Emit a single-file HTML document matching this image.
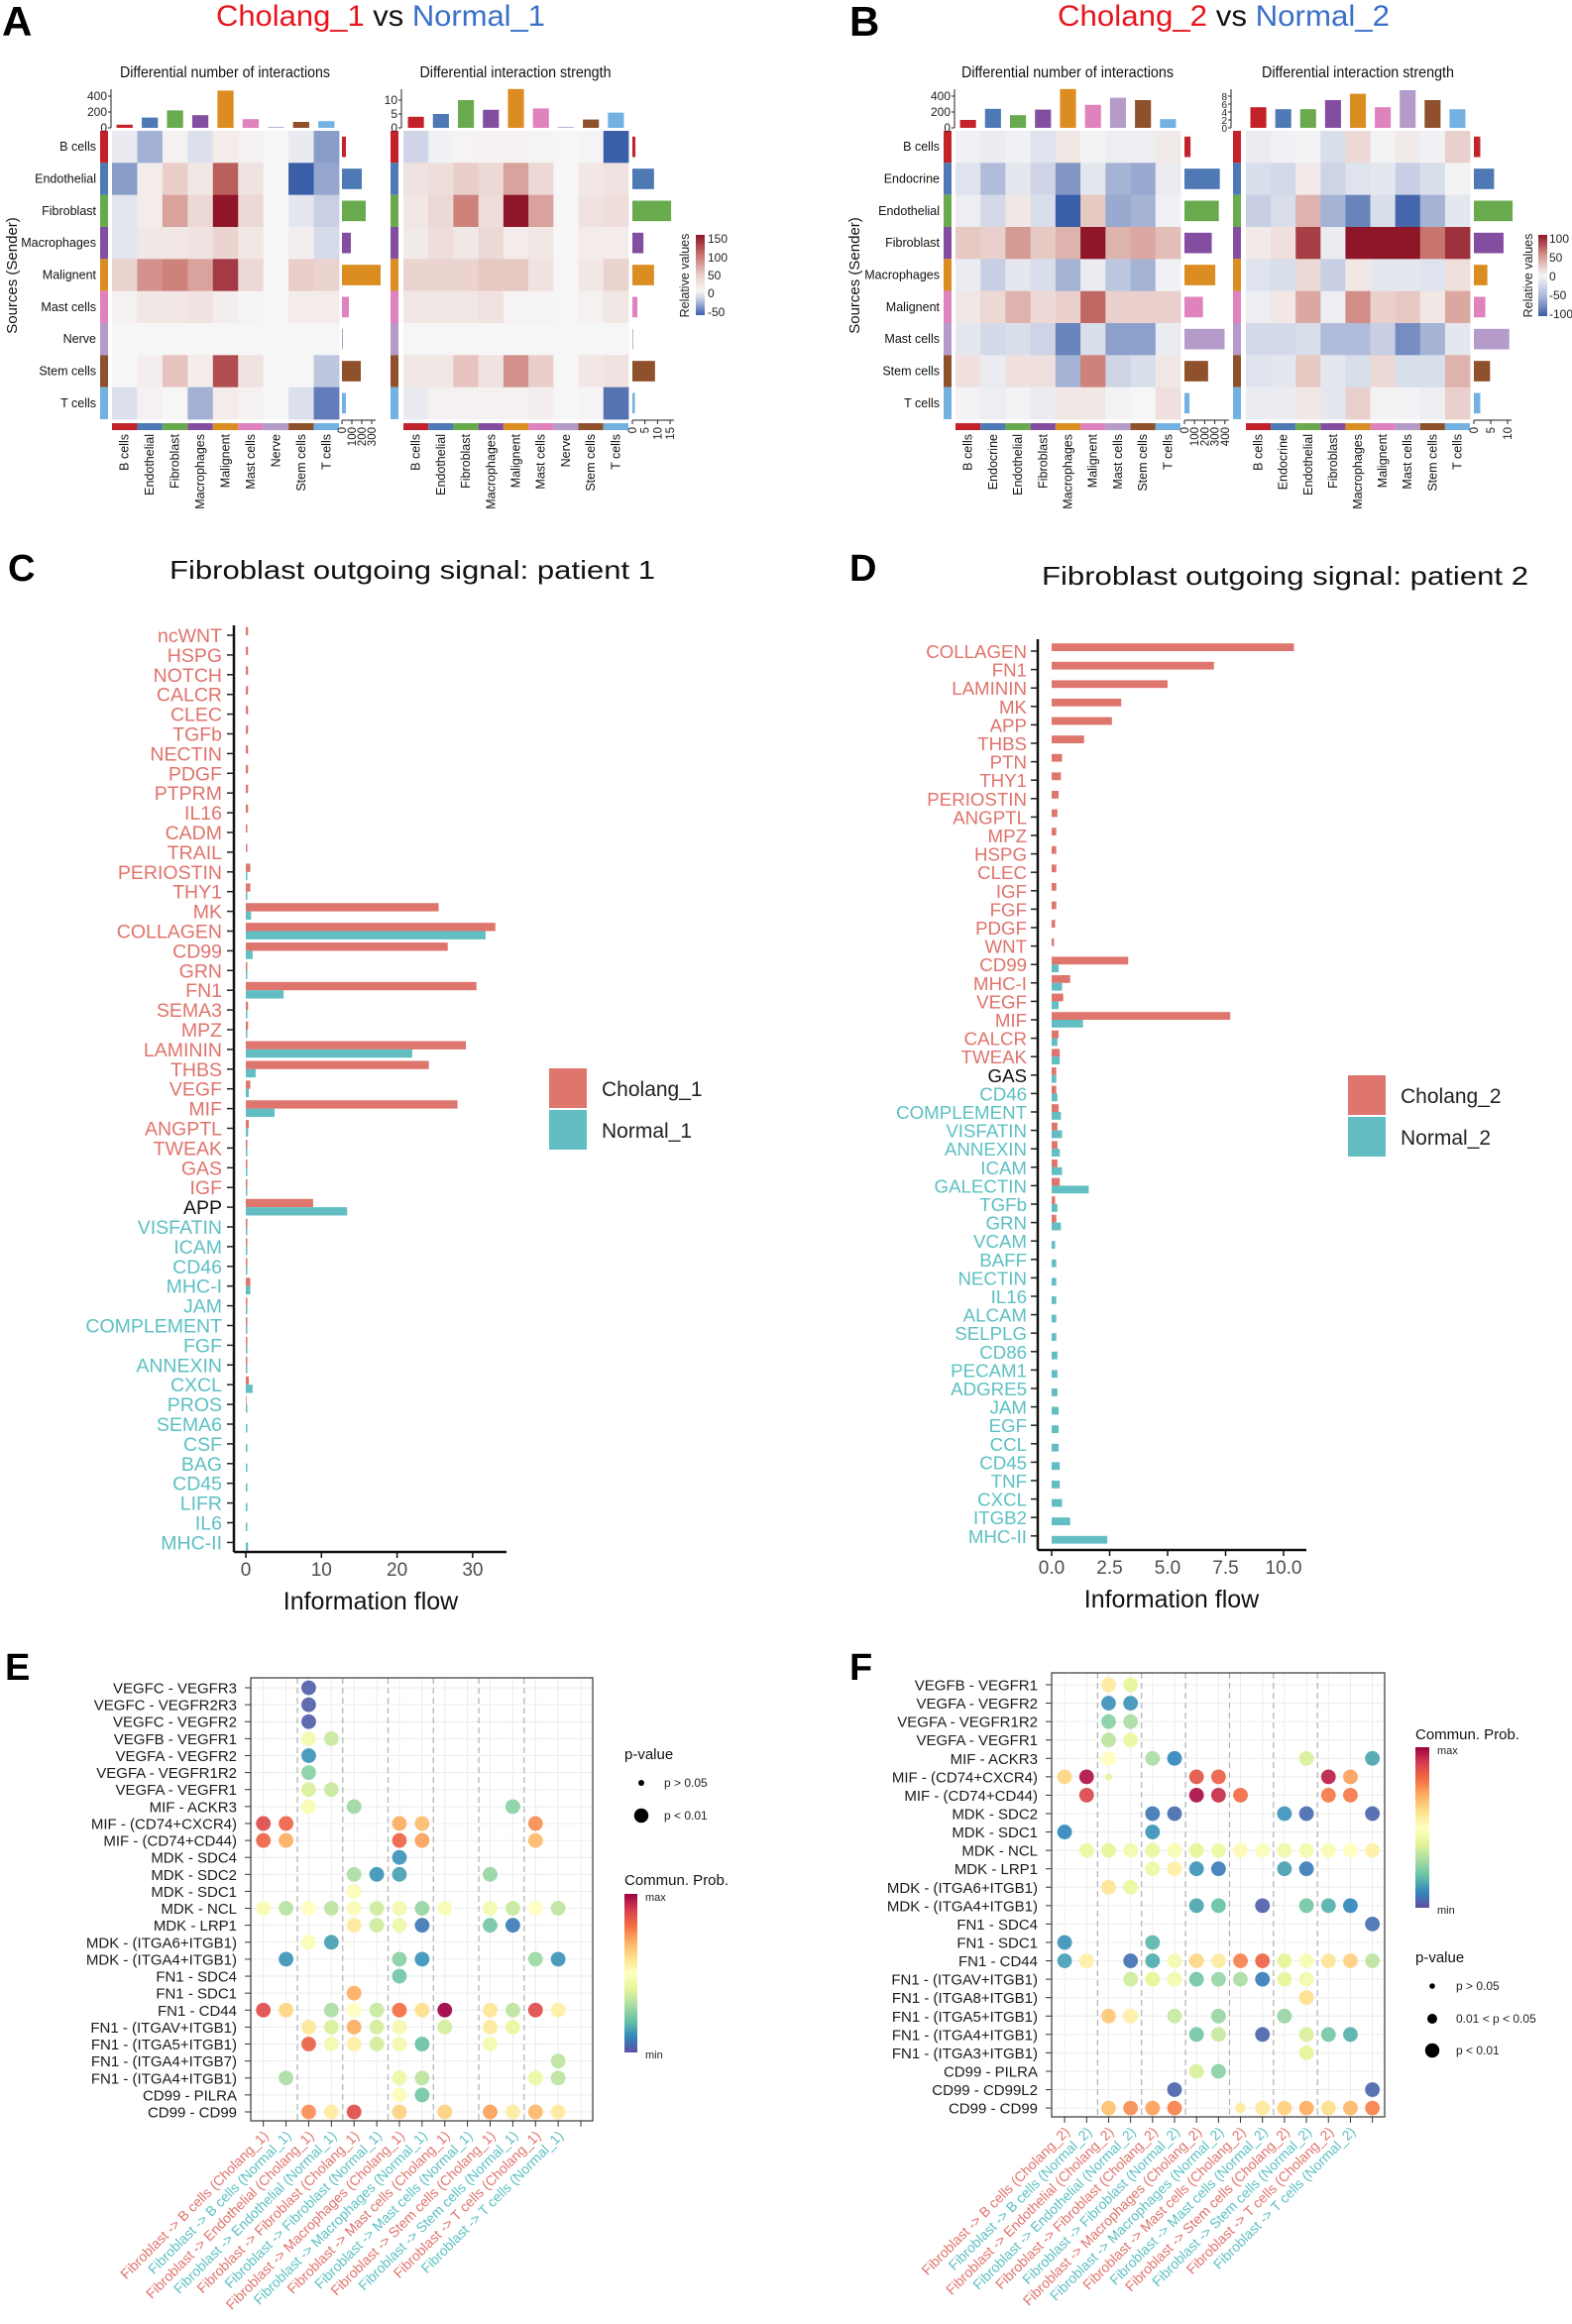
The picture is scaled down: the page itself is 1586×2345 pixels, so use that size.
<!DOCTYPE html>
<html><head><meta charset="utf-8"><title>Cell communication figure</title>
<style>
html,body{margin:0;padding:0;background:#fff;}
svg{display:block;font-family:"Liberation Sans",Arial,sans-serif;}
</style></head>
<body>
<svg id="fig" xmlns="http://www.w3.org/2000/svg" width="1586" height="2345" viewBox="0 0 1586 2345">
<rect x="0" y="0" width="1586" height="2345" fill="#fff"/>
<defs>
<linearGradient id="gradA" x1="0" y1="0" x2="0" y2="1">
<stop offset="0" stop-color="#8e1628"/><stop offset="0.25" stop-color="#c7736c"/><stop offset="0.5" stop-color="#e9cdc8"/><stop offset="0.7" stop-color="#f6f6f6"/><stop offset="0.8" stop-color="#c5cce3"/><stop offset="1" stop-color="#3b5ea8"/>
</linearGradient>
<linearGradient id="gradB" x1="0" y1="0" x2="0" y2="1">
<stop offset="0" stop-color="#8e1628"/><stop offset="0.25" stop-color="#d6938c"/><stop offset="0.5" stop-color="#f6f6f6"/><stop offset="0.75" stop-color="#aeb9da"/><stop offset="1" stop-color="#3b5ea8"/>
</linearGradient>
<linearGradient id="gradSp" x1="0" y1="0" x2="0" y2="1">
<stop offset="0" stop-color="#9e0142"/><stop offset="0.1" stop-color="#d53e4f"/><stop offset="0.2" stop-color="#f46d43"/><stop offset="0.3" stop-color="#fdae61"/><stop offset="0.4" stop-color="#fee08b"/><stop offset="0.5" stop-color="#ffffbf"/><stop offset="0.6" stop-color="#e6f598"/><stop offset="0.7" stop-color="#abdda4"/><stop offset="0.8" stop-color="#66c2a5"/><stop offset="0.9" stop-color="#3288bd"/><stop offset="1" stop-color="#5e4fa2"/>
</linearGradient>
</defs>

<text x="2" y="36" font-size="42" font-weight="bold">A</text>
<text x="218" y="26" font-size="30" textLength="332" lengthAdjust="spacingAndGlyphs"><tspan fill="#e8141c">Cholang_1</tspan><tspan fill="#111"> vs </tspan><tspan fill="#3a6fc8">Normal_1</tspan></text>
<text x="857" y="36" font-size="42" font-weight="bold">B</text>
<text x="1067" y="26" font-size="30" textLength="335" lengthAdjust="spacingAndGlyphs"><tspan fill="#e8141c">Cholang_2</tspan><tspan fill="#111"> vs </tspan><tspan fill="#3a6fc8">Normal_2</tspan></text>

<text x="8" y="586" font-size="38" font-weight="bold">C</text>
<text x="171" y="584" font-size="26" textLength="490" lengthAdjust="spacingAndGlyphs" fill="#111">Fibroblast outgoing signal: patient 1</text>
<text x="857" y="586" font-size="38" font-weight="bold">D</text>
<text x="1051" y="590" font-size="26" textLength="491" lengthAdjust="spacingAndGlyphs" fill="#111">Fibroblast outgoing signal: patient 2</text>

<text x="5" y="1695" font-size="38" font-weight="bold">E</text>
<text x="857" y="1695" font-size="38" font-weight="bold">F</text>
</svg>

<script>
// ---------- Panel A / B heatmap data ----------
const cellsA = ["B cells","Endothelial","Fibroblast","Macrophages","Malignent","Mast cells","Nerve","Stem cells","T cells"];
const colorsA = ["#c4222a","#4e79b4","#6aaa4e","#844ea0","#dc8d22","#df82bd","#b49bc9","#8f512b","#74b1e3"];
const cellsB = ["B cells","Endocrine","Endothelial","Fibroblast","Macrophages","Malignent","Mast cells","Stem cells","T cells"];
const colorsB = ["#c4222a","#4e79b4","#6aaa4e","#844ea0","#dc8d22","#df82bd","#b49bc9","#8f512b","#74b1e3"];

const matA1 = [
 [-10,-50,5,-20,10,5,0,-10,-60],
 [-60,10,40,15,110,20,0,-90,-55],
 [-15,10,70,30,150,30,0,-15,-35],
 [-15,15,15,20,35,15,0,8,-25],
 [35,80,90,70,130,30,0,40,35],
 [5,15,15,20,8,3,0,10,10],
 [0,0,0,0,0,0,0,0,0],
 [0,8,50,10,120,20,0,0,-40],
 [-20,5,0,-50,10,5,0,-20,-75]];
const matA2 = [
 [-30,-5,3,5,5,3,0,3,-90],
 [20,25,40,30,70,30,0,15,20],
 [15,30,90,25,150,70,0,20,25],
 [12,25,15,30,10,15,0,10,10],
 [35,35,35,45,45,20,0,15,35],
 [15,15,15,20,3,3,0,5,15],
 [0,0,0,0,0,0,0,0,0],
 [15,15,50,20,80,40,0,15,20],
 [-10,5,5,5,5,8,0,3,-80]];
const matB1 = [
 [-5,-10,-5,-20,10,-3,-8,-8,8],
 [-20,-50,-15,-35,-70,-15,-55,-60,-10],
 [-8,-30,10,-25,-100,30,-60,-55,-5],
 [30,25,50,30,40,100,40,45,35],
 [-10,-40,-15,-25,-55,-10,-45,-55,-5],
 [10,20,40,20,25,70,25,25,25],
 [-15,-30,-25,-35,-80,-25,-65,-65,-10],
 [15,-10,15,15,-55,60,-35,-25,10],
 [-3,-8,-3,-10,10,10,-3,0,15]];
const matB2 = [
 [-10,-5,-3,-25,20,-3,8,-5,25],
 [-25,-30,8,-35,-20,-15,-40,-25,-3],
 [-40,-25,40,-55,-80,-25,-95,-55,-15],
 [8,15,85,-10,110,100,110,65,90],
 [-20,-25,20,-40,10,-15,-15,-20,15],
 [-8,10,45,-8,55,25,30,10,45],
 [-30,-30,-25,-50,-50,-40,-75,-55,-15],
 [-20,-15,30,-15,-25,20,-25,-25,40],
 [-10,-10,10,-15,25,-3,-3,-8,25]];

const topA1 = [40,130,220,160,470,110,10,75,85];
const rightA1 = [40,200,240,90,390,70,10,190,40];
const topA2 = [4,5,10,6.5,14,7,0.3,3,5.5];
const rightA2 = [1.2,8.6,15.4,4.4,8.6,2,0.3,9,1];
const topB1 = [100,240,160,230,490,290,380,350,110];
const rightB1 = [60,350,340,270,305,183,397,234,50];
const topB2 = [5.2,4.7,4.7,7,8.6,5.2,9.5,7,4.7];
const rightB2 = [1.9,6,11.5,8.8,4,3.4,10.5,4.8,1.9];

const ticksTopCount = [0,200,400];
const ticksTopStrA = [0,5,10];
const ticksTopStrB = [0,2,4,6,8];
const ticksRightA1 = [0,100,200,300];
const ticksRightA2 = [0,5,10,15];
const ticksRightB1 = [0,100,200,300,400];
const ticksRightB2 = [0,5,10];

// ---------- Panel C data ----------
const catsC = ["ncWNT","HSPG","NOTCH","CALCR","CLEC","TGFb","NECTIN","PDGF","PTPRM","IL16","CADM","TRAIL","PERIOSTIN","THY1","MK","COLLAGEN","CD99","GRN","FN1","SEMA3","MPZ","LAMININ","THBS","VEGF","MIF","ANGPTL","TWEAK","GAS","IGF","APP","VISFATIN","ICAM","CD46","MHC-I","JAM","COMPLEMENT","FGF","ANNEXIN","CXCL","PROS","SEMA6","CSF","BAG","CD45","LIFR","IL6","MHC-II"];
const cholC = [0.3,0.3,0.3,0.3,0.3,0.3,0.3,0.3,0.3,0.3,0.2,0.2,0.6,0.6,25.5,33.0,26.7,0.2,30.5,0.3,0.3,29.1,24.2,0.6,28.0,0.4,0.2,0.2,0.2,8.9,0.2,0.2,0.2,0.6,0.2,0.2,0.2,0.2,0.4,0.1,0,0,0,0,0,0,0];
const normC = [0,0,0,0,0,0,0,0,0,0,0,0,0.2,0.2,0.7,31.7,0.9,0.2,5.0,0.2,0.2,22.0,1.3,0.4,3.8,0.3,0.2,0.2,0.2,13.4,0.2,0.2,0.2,0.6,0.2,0.2,0.2,0.2,0.9,0.2,0.2,0.2,0.2,0.2,0.2,0.2,0.3];
const ticksC = [0,10,20,30];
const tickLabelsC = ["0","10","20","30"];

// ---------- Panel D data ----------
const catsD = ["COLLAGEN","FN1","LAMININ","MK","APP","THBS","PTN","THY1","PERIOSTIN","ANGPTL","MPZ","HSPG","CLEC","IGF","FGF","PDGF","WNT","CD99","MHC-I","VEGF","MIF","CALCR","TWEAK","GAS","CD46","COMPLEMENT","VISFATIN","ANNEXIN","ICAM","GALECTIN","TGFb","GRN","VCAM","BAFF","NECTIN","IL16","ALCAM","SELPLG","CD86","PECAM1","ADGRE5","JAM","EGF","CCL","CD45","TNF","CXCL","ITGB2","MHC-II"];
const cholD = [10.45,7.0,5.0,3.0,2.6,1.4,0.45,0.4,0.3,0.25,0.2,0.2,0.2,0.2,0.2,0.15,0.1,3.3,0.8,0.5,7.7,0.3,0.35,0.2,0.2,0.3,0.25,0.25,0.25,0.35,0.15,0.2,0,0,0,0,0,0,0,0,0,0,0,0,0,0,0,0,0];
const normD = [0,0,0,0,0,0,0,0,0,0,0,0,0,0,0,0,0,0.3,0.45,0.3,1.35,0.25,0.35,0.2,0.25,0.4,0.45,0.35,0.45,1.6,0.25,0.4,0.15,0.2,0.2,0.2,0.2,0.2,0.25,0.25,0.25,0.3,0.3,0.3,0.35,0.35,0.45,0.8,2.4];
const ticksD = [0,2.5,5,7.5,10];
const tickLabelsD = ["0.0","2.5","5.0","7.5","10.0"];

// ---------- Panel E data ----------
const eRows = ["VEGFC - VEGFR3","VEGFC - VEGFR2R3","VEGFC - VEGFR2","VEGFB - VEGFR1","VEGFA - VEGFR2","VEGFA - VEGFR1R2","VEGFA - VEGFR1","MIF - ACKR3","MIF - (CD74+CXCR4)","MIF - (CD74+CD44)","MDK - SDC4","MDK - SDC2","MDK - SDC1","MDK - NCL","MDK - LRP1","MDK - (ITGA6+ITGB1)","MDK - (ITGA4+ITGB1)","FN1 - SDC4","FN1 - SDC1","FN1 - CD44","FN1 - (ITGAV+ITGB1)","FN1 - (ITGA5+ITGB1)","FN1 - (ITGA4+ITGB7)","FN1 - (ITGA4+ITGB1)","CD99 - PILRA","CD99 - CD99"];
const eCols = ["Fibroblast -> B cells (Cholang_1)","Fibroblast -> B cells (Normal_1)","Fibroblast -> Endothelial (Cholang_1)","Fibroblast -> Endothelial (Normal_1)","Fibroblast -> Fibroblast (Cholang_1)","Fibroblast -> Fibroblast (Normal_1)","Fibroblast -> Macrophages (Cholang_1)","Fibroblast -> Macrophages (Normal_1)","Fibroblast -> Mast cells (Cholang_1)","Fibroblast -> Mast cells (Normal_1)","Fibroblast -> Stem cells (Cholang_1)","Fibroblast -> Stem cells (Normal_1)","Fibroblast -> T cells (Cholang_1)","Fibroblast -> T cells (Normal_1)"];
const ePoints = [
 [[2,.03,2]],[[2,.03,2]],[[2,.03,2]],
 [[2,.45,2],[3,.35,2]],
 [[2,.12,2]],
 [[2,.25,2]],
 [[2,.38,2],[3,.35,2]],
 [[2,.47,2],[4,.28,2],[11,.25,2]],
 [[0,.87,2],[1,.82,2],[6,.7,2],[7,.67,2],[12,.75,2]],
 [[0,.82,2],[1,.7,2],[6,.82,2],[7,.72,2],[12,.68,2]],
 [[6,.12,2]],
 [[4,.3,2],[5,.12,2],[6,.14,2],[10,.27,2]],
 [[4,.48,2]],
 [[0,.47,2],[1,.32,2],[2,.5,2],[3,.33,2],[4,.47,2],[5,.36,2],[6,.45,2],[7,.27,2],[8,.47,2],[10,.45,2],[11,.35,2],[12,.5,2],[13,.33,2]],
 [[4,.57,2],[5,.36,2],[6,.44,2],[7,.07,2],[10,.22,2],[11,.08,2]],
 [[2,.48,2],[3,.14,2]],
 [[1,.12,2],[6,.25,2],[7,.12,2],[12,.28,2],[13,.12,2]],
 [[6,.22,2]],
 [[4,.7,2]],
 [[0,.87,2],[1,.62,2],[3,.3,2],[4,.5,2],[5,.35,2],[6,.8,2],[7,.6,2],[8,1,2],[10,.58,2],[11,.33,2],[12,.87,2],[13,.55,2]],
 [[2,.58,2],[3,.38,2],[4,.7,2],[5,.37,2],[6,.45,2],[8,.37,2],[10,.57,2],[11,.42,2]],
 [[2,.83,2],[3,.45,2],[4,.55,2],[5,.37,2],[6,.45,2],[7,.2,2],[10,.45,2]],
 [[13,.33,2]],
 [[1,.3,2],[6,.43,2],[7,.33,2],[12,.43,2],[13,.33,2]],
 [[6,.48,2],[7,.22,2]],
 [[2,.75,2],[3,.56,2],[4,.87,2],[6,.63,2],[8,.63,2],[10,.72,2],[11,.56,2],[12,.68,2],[13,.57,2]]
];

// ---------- Panel F data ----------
const fRows = ["VEGFB - VEGFR1","VEGFA - VEGFR2","VEGFA - VEGFR1R2","VEGFA - VEGFR1","MIF - ACKR3","MIF - (CD74+CXCR4)","MIF - (CD74+CD44)","MDK - SDC2","MDK - SDC1","MDK - NCL","MDK - LRP1","MDK - (ITGA6+ITGB1)","MDK - (ITGA4+ITGB1)","FN1 - SDC4","FN1 - SDC1","FN1 - CD44","FN1 - (ITGAV+ITGB1)","FN1 - (ITGA8+ITGB1)","FN1 - (ITGA5+ITGB1)","FN1 - (ITGA4+ITGB1)","FN1 - (ITGA3+ITGB1)","CD99 - PILRA","CD99 - CD99L2","CD99 - CD99"];
const fCols = ["Fibroblast -> B cells (Cholang_2)","Fibroblast -> B cells (Normal_2)","Fibroblast -> Endothelial (Cholang_2)","Fibroblast -> Endothelial (Normal_2)","Fibroblast -> Fibroblast (Cholang_2)","Fibroblast -> Fibroblast (Normal_2)","Fibroblast -> Macrophages (Cholang_2)","Fibroblast -> Macrophages (Normal_2)","Fibroblast -> Mast cells (Cholang_2)","Fibroblast -> Mast cells (Normal_2)","Fibroblast -> Stem cells (Cholang_2)","Fibroblast -> Stem cells (Normal_2)","Fibroblast -> T cells (Cholang_2)","Fibroblast -> T cells (Normal_2)"];
const fPoints = [
 [[2,.57,2],[3,.4,2]],
 [[2,.12,2],[3,.12,2]],
 [[2,.25,2],[3,.3,2]],
 [[2,.33,2],[3,.42,2]],
 [[2,.5,2],[4,.3,2],[5,.1,2],[11,.38,2],[14,.15,2]],
 [[0,.62,2],[1,.97,2],[2,.4,0],[6,.85,2],[7,.83,2],[12,.95,2],[13,.72,2]],
 [[1,.88,2],[6,.98,2],[7,.93,2],[8,.8,2],[12,.78,2],[13,.78,2]],
 [[4,.07,2],[5,.05,2],[10,.12,2],[11,.05,2],[14,.04,2]],
 [[0,.1,2],[4,.12,2]],
 [[1,.42,2],[2,.4,2],[3,.45,2],[4,.42,2],[5,.47,2],[6,.4,2],[7,.43,2],[8,.52,2],[9,.48,2],[10,.44,2],[11,.45,2],[12,.47,2],[13,.5,2],[14,.55,2]],
 [[4,.43,2],[5,.55,2],[6,.12,2],[7,.08,2],[10,.14,2],[11,.08,2]],
 [[2,.58,2],[3,.42,2]],
 [[6,.15,2],[7,.2,2],[9,.03,2],[11,.22,2],[12,.17,2],[13,.1,2]],
 [[14,.06,2]],
 [[0,.12,2],[4,.18,2]],
 [[0,.14,2],[1,.55,2],[3,.06,2],[4,.16,2],[5,.45,2],[6,.62,2],[7,.56,2],[8,.77,2],[9,.82,2],[10,.4,2],[11,.47,2],[12,.58,2],[13,.63,2],[14,.33,2]],
 [[3,.36,2],[4,.4,2],[5,.45,2],[6,.22,2],[7,.27,2],[8,.3,2],[9,.08,2],[10,.4,2],[11,.45,2]],
 [[11,.6,2]],
 [[2,.65,2],[3,.55,2],[5,.35,2],[7,.27,2],[10,.27,2]],
 [[6,.22,2],[7,.35,2],[9,.04,2],[11,.38,2],[12,.22,2],[13,.17,2]],
 [[11,.4,2]],
 [[6,.38,2],[7,.25,2]],
 [[5,.04,2],[14,.04,2]],
 [[2,.66,2],[3,.75,2],[4,.72,2],[5,.77,2],[8,.57,1],[9,.57,2],[10,.63,2],[11,.7,2],[12,.6,2],[13,.68,2],[14,.77,2]]
];

// ================= drawing =================
const NS = 'http://www.w3.org/2000/svg';
const svg = document.getElementById('fig');
function mk(tag, attrs, parent){
  const e = document.createElementNS(NS, tag);
  for (const k in attrs) e.setAttribute(k, attrs[k]);
  (parent || svg).appendChild(e);
  return e;
}
function txt(str, attrs, parent){
  const e = mk('text', attrs, parent);
  e.textContent = str;
  return e;
}
function hex2rgb(h){return [parseInt(h.slice(1,3),16),parseInt(h.slice(3,5),16),parseInt(h.slice(5,7),16)];}
function ramp(stops, t){
  t = Math.max(0, Math.min(1, t));
  for (let i=0;i<stops.length-1;i++){
    const a=stops[i], b=stops[i+1];
    if (t<=b[0]){
      const f=(t-a[0])/(b[0]-a[0]||1);
      const ca=hex2rgb(a[1]), cb=hex2rgb(b[1]);
      return 'rgb('+ca.map((v,k)=>Math.round(v+(cb[k]-v)*f)).join(',')+')';
    }
  }
  return stops[stops.length-1][1];
}
const posStops = [[0,'#f6f6f6'],[0.33,'#e6c4bf'],[0.66,'#c7736c'],[1,'#8e1628']];
const negStops = [[0,'#f6f6f6'],[0.4,'#c8cfe4'],[1,'#3b5ea8']];
function heatColor(v, pos, neg){
  return v>=0 ? ramp(posStops, v/pos) : ramp(negStops, -v/neg);
}
const spStops = [[0,'#5e4fa2'],[0.1,'#3288bd'],[0.2,'#66c2a5'],[0.3,'#abdda4'],[0.4,'#e6f598'],[0.5,'#ffffbf'],[0.6,'#fee08b'],[0.7,'#fdae61'],[0.8,'#f46d43'],[0.9,'#d53e4f'],[1,'#9e0142']];
function specColor(v){
  return ramp(spStops, v);
}

function heat(c){
  const n = c.labels.length;
  const cw = (c.x1-c.x0)/n, rh = (c.y1-c.y0)/n;
  const g = mk('g', {});
  
  
  const st = txt(c.subtitle, {x:c.subX, y:78, 'font-size':16, 'text-anchor':'middle', textLength:c.subW, lengthAdjust:'spacingAndGlyphs', fill:'#111'}, g);
  
  
  c.matrix.forEach((row,i)=>row.forEach((v,j)=>{
    const r = mk('rect', {x:c.x0+j*cw, y:c.y0+i*rh, width:cw+0.4, height:rh+0.4, fill:heatColor(v,c.pos,c.neg)}, g);
    
    
  }));
  c.labels.forEach((lab,i)=>{
    const s = mk('rect', {x:c.sx, y:c.y0+i*rh, width:8, height:rh, fill:c.colors[i]}, g);
    
    
    if (c.rowLabX){
      const t = txt(lab, {x:c.rowLabX, y:c.y0+i*rh+rh/2+4, 'font-size':12.5, 'text-anchor':'end', fill:'#111'}, g);
      
      
    }
  });
  c.labels.forEach((lab,j)=>{
    const s = mk('rect', {x:c.x0+j*cw, y:c.y1+4, width:cw, height:7, fill:c.colors[j]}, g);
    
    
    const cx = c.x0+j*cw+cw/2+4, cy = c.y1+15;
    const t = txt(lab, {x:cx, y:cy, 'font-size':12.5, 'text-anchor':'end', transform:'rotate(-90 '+cx+' '+cy+')', fill:'#111'}, g);
    
    
  });
  const base = 129;
  c.topVals.forEach((v,j)=>{
    const h = v*c.topScale;
    const b = mk('rect', {x:c.x0+j*cw+cw*0.18, y:base-h, width:cw*0.64, height:h, fill:c.colors[j]}, g);
    
    
  });
  const topMax = c.topTicks[c.topTicks.length-1]*c.topScale;
  const ax = mk('line', {x1:c.topAxisX, y1:base, x2:c.topAxisX, y2:Math.min(base-topMax-4, 90), stroke:'#222', 'stroke-width':1}, g);
  
  
  c.topTicks.forEach(tv=>{
    const y = base - tv*c.topScale;
    const tk = mk('line', {x1:c.topAxisX-3, y1:y, x2:c.topAxisX, y2:y, stroke:'#222'}, g);
    
    
    const tl = txt(String(tv), {x:c.topAxisX-4, y:y+4, 'font-size':c.topFont||12, 'text-anchor':'end', fill:'#222'}, g);
    
    
  });
  c.rightVals.forEach((v,i)=>{
    const b = mk('rect', {x:c.rx, y:c.y0+i*rh+rh*0.18, width:v*c.rScale, height:rh*0.64, fill:c.colors[i]}, g);
    
    
  });
  const rMax = c.rTicks[c.rTicks.length-1]*c.rScale;
  const ay = c.y1+1;
  const rax = mk('line', {x1:c.rx, y1:ay, x2:c.rx+rMax+4, y2:ay, stroke:'#222'}, g);
  
  
  c.rTicks.forEach(tv=>{
    const x = c.rx + tv*c.rScale;
    const tk = mk('line', {x1:x, y1:ay, x2:x, y2:ay+4, stroke:'#222'}, g);
    
    
    const tx = x+4, ty = ay+7;
    const tl = txt(String(tv), {x:tx, y:ty, 'font-size':11.5, 'text-anchor':'end', transform:'rotate(-90 '+tx+' '+ty+')', fill:'#222'}, g);
    
    
  });
}

const hy0 = 132, hy1 = 423;
heat({name:'heatmap-a-number', subtitle:'Differential number of interactions', subX:227, subW:212, x0:113, x1:342, y0:hy0, y1:hy1, labels:cellsA, colors:colorsA, matrix:matA1, pos:150, neg:90, sx:101, rowLabX:97, topVals:topA1, topScale:0.08, topTicks:ticksTopCount, topAxisX:112, rightVals:rightA1, rx:345, rScale:0.1, rTicks:ticksRightA1});
heat({name:'heatmap-a-strength', subtitle:'Differential interaction strength', subX:520, subW:193, x0:407, x1:634, y0:hy0, y1:hy1, labels:cellsA, colors:colorsA, matrix:matA2, pos:150, neg:90, sx:394, rowLabX:0, topVals:topA2, topScale:2.8, topTicks:ticksTopStrA, topAxisX:405, rightVals:rightA2, rx:638, rScale:2.54, rTicks:ticksRightA2});
heat({name:'heatmap-b-number', subtitle:'Differential number of interactions', subX:1077, subW:214, x0:964, x1:1191, y0:hy0, y1:hy1, labels:cellsB, colors:colorsB, matrix:matB1, pos:100, neg:100, sx:952, rowLabX:948, topVals:topB1, topScale:0.08, topTicks:ticksTopCount, topAxisX:963, rightVals:rightB1, rx:1195, rScale:0.102, rTicks:ticksRightB1});
heat({name:'heatmap-b-strength', subtitle:'Differential interaction strength', subX:1370, subW:194, x0:1257, x1:1483, y0:hy0, y1:hy1, labels:cellsB, colors:colorsB, matrix:matB2, pos:100, neg:100, sx:1244, rowLabX:0, topVals:topB2, topScale:4, topTicks:ticksTopStrB, topAxisX:1242, topFont:10, rightVals:rightB2, rx:1487, rScale:3.4, rTicks:ticksRightB2});

[[12,'sources-sender-a'],[862,'sources-sender-b']].forEach(p=>{
  const t = txt('Sources (Sender)', {x:p[0]+5, y:278, 'font-size':15, 'text-anchor':'middle', transform:'rotate(-90 '+(p[0]+5)+' 278)', fill:'#111'});
  
  
});
const cbA = mk('rect', {x:702, y:237, width:9, height:81, fill:'url(#gradA)'});


const cbB = mk('rect', {x:1552, y:237, width:9, height:82, fill:'url(#gradB)'});


const cbLabA = ['150','100','50','0','-50'], cbYA = [241,260,278,296,315];
const cbLabB = ['100','50','0','-50','-100'], cbYB = [241,260,279,298,317];
cbLabA.forEach((l,i)=>{
  const t = txt(l, {x:714, y:cbYA[i]+4, 'font-size':12, fill:'#222'});
  
  
});
cbLabB.forEach((l,i)=>{
  const t = txt(l, {x:1563, y:cbYB[i]+4, 'font-size':12, fill:'#222'});
  
  
});
[[695,'relative-values-a'],[1546,'relative-values-b']].forEach(p=>{
  const t = txt('Relative values', {x:p[0], y:278, 'font-size':12.5, 'text-anchor':'middle', transform:'rotate(-90 '+p[0]+' 278)', fill:'#222'});
  
  
});

// ---------- bar charts ----------
const RED = '#df766e', TEAL = '#62bec2', RED_T = '#e0736b', TEAL_T = '#5cc0c3';
function barChart(c){
  const g = mk('g', {});
  
  
  const xs = v => c.zx + v*c.ppu;
  const bh = c.step*0.42;
  c.cats.forEach((cat,i)=>{
    const cy = c.y0 + i*c.step;
    const col = i<c.nRed ? RED_T : (i===c.nRed ? '#111' : TEAL_T);
    const t = txt(cat, {x:c.labX, y:cy+7, 'font-size':c.font, 'text-anchor':'end', fill:col}, g);
    
    
    const tk = mk('line', {x1:c.axX-7, y1:cy, x2:c.axX, y2:cy, stroke:'#222', 'stroke-width':1.5}, g);
    
    
    if (c.chol[i]>0){
      const b = mk('rect', {x:xs(0), y:cy-bh, width:xs(c.chol[i])-xs(0), height:bh, fill:RED}, g);
      
      
    }
    if (c.norm[i]>0){
      const b = mk('rect', {x:xs(0), y:cy, width:xs(c.norm[i])-xs(0), height:bh, fill:TEAL}, g);
      
      
    }
  });
  const ya = mk('line', {x1:c.axX, y1:c.yTop, x2:c.axX, y2:c.yBot, stroke:'#111', 'stroke-width':2.5}, g);
  
  
  const xa = mk('line', {x1:c.axX, y1:c.yBot, x2:c.xEnd, y2:c.yBot, stroke:'#111', 'stroke-width':2.5}, g);
  
  
  c.ticks.forEach((tv,k)=>{
    const x = xs(tv);
    const tk = mk('line', {x1:x, y1:c.yBot, x2:x, y2:c.yBot+6, stroke:'#111', 'stroke-width':1.5}, g);
    
    
    const tl = txt(c.tickLabels[k], {x:x, y:c.yBot+24, 'font-size':19, 'text-anchor':'middle', fill:'#4d4d4d'}, g);
    
    
  });
  const xt = txt('Information flow', {x:c.xtX, y:c.xtY, 'font-size':25, 'text-anchor':'middle', fill:'#111'}, g);
  
  
  const lk1 = mk('rect', {x:c.lgX, y:c.lgY, width:38, height:40, fill:RED}, g);
  
  
  const lk2 = mk('rect', {x:c.lgX, y:c.lgY+42, width:38, height:40, fill:TEAL}, g);
  
  
  const lt1 = txt(c.legend[0], {x:c.lgX+53, y:c.lgY+28, 'font-size':21, fill:'#222'}, g);
  
  
  const lt2 = txt(c.legend[1], {x:c.lgX+53, y:c.lgY+70, 'font-size':21, fill:'#222'}, g);
  
  
}
barChart({name:'bar-chart-c', cats:catsC, chol:cholC, norm:normC, nRed:29, zx:248, ppu:7.63, axX:236, yTop:631, yBot:1566, xEnd:511, y0:641, step:19.9, labX:224, font:19.5, ticks:ticksC, tickLabels:tickLabelsC, xtX:374, xtY:1624, lgX:554, lgY:1078, legend:['Cholang_1','Normal_1']});
barChart({name:'bar-chart-d', cats:catsD, chol:cholD, norm:normD, nRed:23, zx:1061, ppu:23.4, axX:1047, yTop:645, yBot:1564, xEnd:1318, y0:657, step:18.6, labX:1036, font:18.7, ticks:ticksD, tickLabels:tickLabelsD, xtX:1182, xtY:1622, lgX:1360, lgY:1085, legend:['Cholang_2','Normal_2']});

// ---------- dot plots ----------
function dotPlot(c){
  const g = mk('g', {});
  
  
  const colX = j => c.cx0 + j*c.cstep;
  const rowY = i => c.ry0 + i*c.rstep;
  for (let j=0;j<15;j++){
    const l = mk('line', {x1:colX(j), y1:c.y0, x2:colX(j), y2:c.y1, stroke:'#ececec', 'stroke-width':1}, g);
    
    
  }
  c.rows.forEach((r,i)=>{
    const l = mk('line', {x1:c.x0, y1:rowY(i), x2:c.x1, y2:rowY(i), stroke:'#ececec', 'stroke-width':1}, g);
    
    
  });
  for (let k=0;k<6;k++){
    const x = (colX(2*k+1)+colX(2*k+2))/2;
    const l = mk('line', {x1:x, y1:c.y0, x2:x, y2:c.y1, stroke:'#b0b0b0', 'stroke-width':1.2, 'stroke-dasharray':'6,4'}, g);
    
    
  }
  const box = mk('rect', {x:c.x0, y:c.y0, width:c.x1-c.x0, height:c.y1-c.y0, fill:'none', stroke:'#444', 'stroke-width':1.3}, g);
  
  
  c.rows.forEach((r,i)=>{
    const t = txt(r, {x:c.x0-14, y:rowY(i)+5.5, 'font-size':15, 'text-anchor':'end', fill:'#1a1a1a'}, g);
    
    
    const tk = mk('line', {x1:c.x0-6, y1:rowY(i), x2:c.x0, y2:rowY(i), stroke:'#333'}, g);
    
    
  });
  for (let j=0;j<15;j++){
    const tk = mk('line', {x1:colX(j), y1:c.y1, x2:colX(j), y2:c.y1+6, stroke:'#333'}, g);
    
    
  }
  c.cols.forEach((lab,j)=>{
    const ax = colX(j)+6, ay = c.y1+16;
    const t = txt(lab, {x:ax, y:ay, 'font-size':14, 'text-anchor':'end', transform:'rotate(-45 '+ax+' '+ay+')', fill: j%2===0 ? RED_T : TEAL_T}, g);
    
    
  });
  const radii = [3.5, 5.2, 7.4];
  c.points.forEach((row,i)=>row.forEach(p=>{
    const d = mk('circle', {cx:colX(p[0]), cy:rowY(i), r:radii[p[2]], fill:specColor(p[1]), 'fill-opacity':0.92}, g);
    
    
  }));
}
dotPlot({name:'dot-plot-e', rows:eRows, cols:eCols, points:ePoints, x0:253, x1:598, y0:1693, y1:2140, cx0:265.7, cstep:22.88, ry0:1703, rstep:17.12});
dotPlot({name:'dot-plot-f', rows:fRows, cols:fCols, points:fPoints, x0:1061, x1:1397, y0:1688, y1:2136, cx0:1074.1, cstep:22.18, ry0:1700, rstep:18.57});

function legendText(str, attrs, name){
  const t = txt(str, attrs);
  
  
}
legendText('p-value', {x:630, y:1775, 'font-size':15, fill:'#111'}, 'legend-pvalue-title-e');
const ed1 = mk('circle', {cx:647, cy:1799, r:3, fill:'#000'});


const ed2 = mk('circle', {cx:647, cy:1832, r:7.2, fill:'#000'});


legendText('p > 0.05', {x:670, y:1803, 'font-size':12, fill:'#222'}, 'legend-pvalue-label-e');
legendText('p < 0.01', {x:670, y:1836, 'font-size':12, fill:'#222'}, 'legend-pvalue-label-e');
legendText('Commun. Prob.', {x:630, y:1902, 'font-size':15, fill:'#111'}, 'legend-prob-title-e');
const ecb = mk('rect', {x:630, y:1911, width:13, height:160, fill:'url(#gradSp)'});


legendText('max', {x:651, y:1918, 'font-size':11, fill:'#222'}, 'colorbar-max-e');
legendText('min', {x:651, y:2077, 'font-size':11, fill:'#222'}, 'colorbar-min-e');

legendText('Commun. Prob.', {x:1428, y:1755, 'font-size':15, fill:'#111'}, 'legend-prob-title-f');
const fcb = mk('rect', {x:1428, y:1763, width:14, height:162, fill:'url(#gradSp)'});


legendText('max', {x:1450, y:1770, 'font-size':11, fill:'#222'}, 'colorbar-max-f');
legendText('min', {x:1450, y:1931, 'font-size':11, fill:'#222'}, 'colorbar-min-f');
legendText('p-value', {x:1428, y:1980, 'font-size':15, fill:'#111'}, 'legend-pvalue-title-f');
const fd1 = mk('circle', {cx:1445, cy:2004, r:2.8, fill:'#000'});


const fd2 = mk('circle', {cx:1445, cy:2037, r:5, fill:'#000'});


const fd3 = mk('circle', {cx:1445, cy:2069, r:7.2, fill:'#000'});


legendText('p > 0.05', {x:1469, y:2008, 'font-size':12, fill:'#222'}, 'legend-pvalue-label-f');
legendText('0.01 < p < 0.05', {x:1469, y:2041, 'font-size':12, fill:'#222'}, 'legend-pvalue-label-f');
legendText('p < 0.01', {x:1469, y:2073, 'font-size':12, fill:'#222'}, 'legend-pvalue-label-f');
</script>
</body></html>
